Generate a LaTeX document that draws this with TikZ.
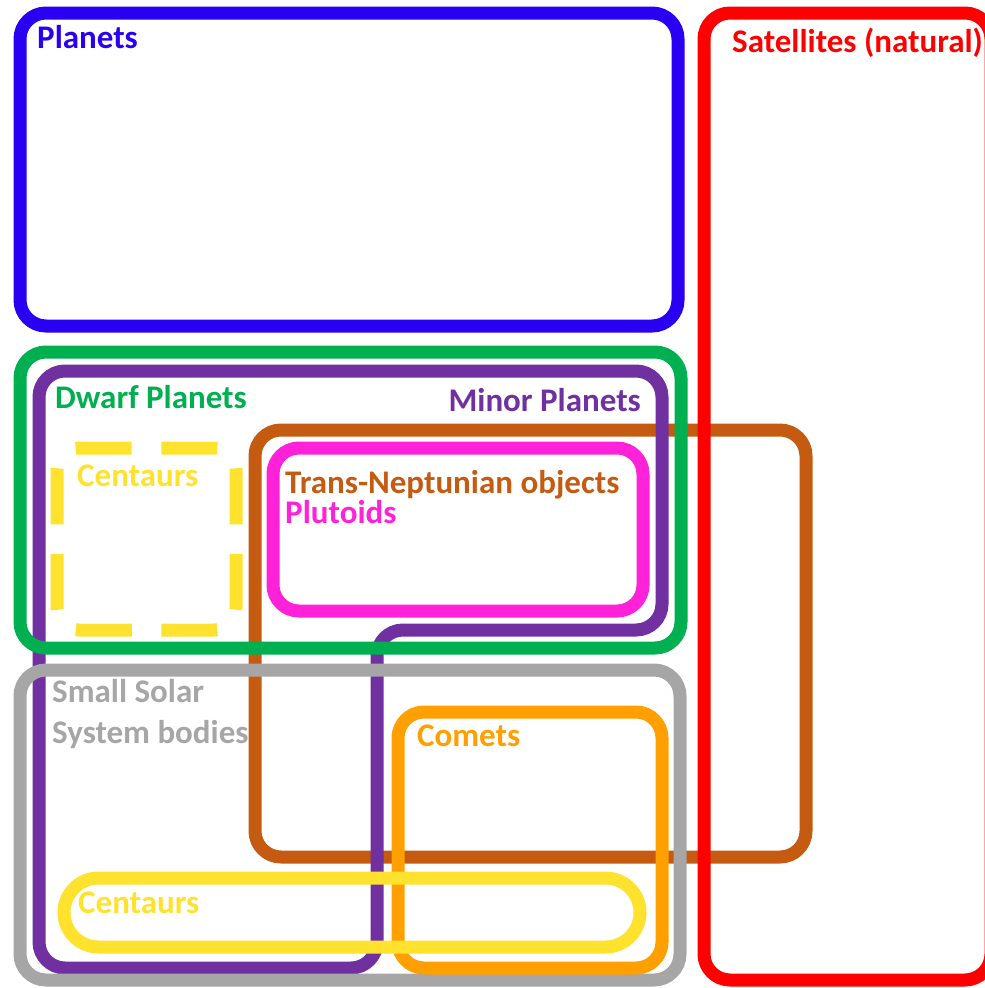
\documentclass[tikz,border=0pt]{standalone}
\usepackage{fontspec}
\setmainfont{Carlito}
\definecolor{cblue}{HTML}{2A00F2}
\definecolor{cred}{HTML}{FF0000}
\definecolor{cgreen}{HTML}{00B050}
\definecolor{cpurple}{HTML}{7030A0}
\definecolor{cbrown}{HTML}{C55A11}
\definecolor{cmag}{HTML}{FF22D8}
\definecolor{cyel}{HTML}{FFE22E}
\definecolor{cgray}{HTML}{A6A6A6}
\definecolor{corange}{HTML}{FFA000}
\begin{document}
\begin{tikzpicture}[x=1pt,y=-1pt,
  box/.style={line width=13pt, rounded corners=26pt},
  lab/.style={anchor=base west, inner sep=0pt, font=\fontsize{33}{39}\selectfont\bfseries}]
\useasboundingbox (0,0) rectangle (985,988);
% boxes (back to front)
\draw[box, cbrown] (255,430) rectangle (806,857);
\draw[box, cpurple] (300,371) -- (662,371) -- (662,630) -- (377,630) -- (377,968)
  -- (39,968) -- (39,371) -- (310,371);
\draw[box, cgreen] (20,352) rectangle (681,648);
\draw[box, cgray] (20,670) rectangle (680,980);
\draw[box, cmag] (273,448) rectangle (643,611);
\draw[box, corange] (398,712) rectangle (662,968);
\draw[line width=13pt, cyel, rounded corners=34.5pt] (64,878) rectangle (640,947);
\draw[line width=13pt, cyel, rounded corners=22pt, dash pattern=on 56pt off 29.5pt, dash phase=70.75pt]
  (146.5,448) -- (236,448) -- (236,630) -- (57,630) -- (57,448) -- (146.5,448);
\draw[box, cred] (704,13) rectangle (991,980);
\draw[box, cblue] (20,13) rectangle (678,326);
% labels
\node[lab, cblue] (lplanets) at (37,48) {Planets};
\node[lab, cred] (lsat) at (732,52) {Satellites (natural)};
\node[lab, cgreen] (ldwarf) at (55,408) {Dwarf Planets};
\node[lab, cpurple, anchor=base east] (lminor) at (641,411) {Minor Planets};
\node[lab, cyel] (lcent1) at (77,486) {Centaurs};
\node[lab, cbrown] (ltno) at (285,493) {Trans-Neptunian objects};
\node[lab, cmag] (lplut) at (285,523) {Plutoids};
\node[lab, cgray] (lssb1) at (52,702) {Small Solar};
\node[lab, cgray] (lssb2) at (52,743) {System bodies};
\node[lab, corange] (lcomets) at (417,746) {Comets};
\node[lab, cyel] (lcent2) at (78,913) {Centaurs};
\end{tikzpicture}
\end{document}
